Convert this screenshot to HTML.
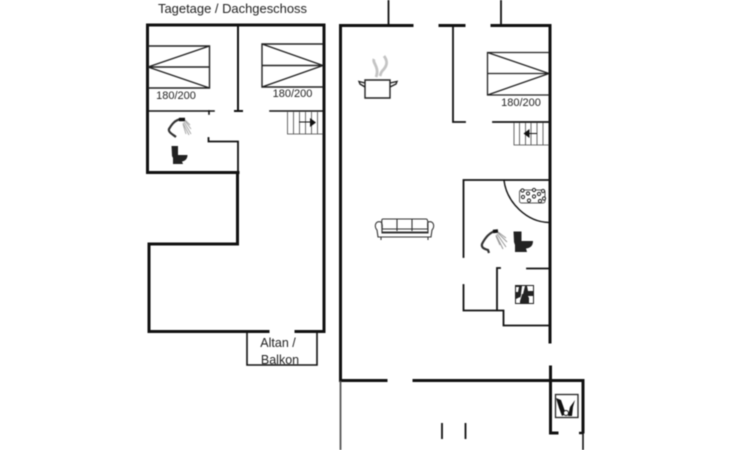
<!DOCTYPE html>
<html>
<head>
<meta charset="utf-8">
<style>
html,body{margin:0;padding:0;background:#fff;width:730px;height:450px;overflow:hidden}
svg{display:block;filter:blur(0.4px)}
text{font-family:"Liberation Sans",sans-serif;fill:#222}
</style>
</head>
<body>
<svg width="730" height="450" viewBox="0 0 730 450" xmlns="http://www.w3.org/2000/svg">
<rect width="730" height="450" fill="#fff"/>

<!-- Title -->
<text x="158" y="13" font-size="13" textLength="149" lengthAdjust="spacingAndGlyphs">Tagetage / Dachgeschoss</text>

<!-- LEFT PLAN outer walls -->
<g fill="none" stroke="#111" stroke-linecap="square">
  <path stroke-width="3" d="M238 172.5H147.5V25H324V331.5H296"/>
  <path stroke-width="3" d="M237.5 172.5V244H149V331.5H268"/>
  <!-- interior -->
  <path stroke-width="2" d="M238 25V111"/>
  <path stroke-width="2" d="M234 111H243" stroke-linecap="butt"/>
  <path stroke-width="1.6" d="M148 111H214"/>
  <path stroke-width="1.6" d="M270 111H323"/>
  <path stroke-width="1.6" d="M209 111V114"/>
  <path stroke-width="1.8" d="M208.500 138V141.500H238V172"/>
  <!-- balcony -->
  <path stroke-width="1.6" d="M247 332V365H317V332"/>
</g>

<!-- left beds -->
<g fill="none" stroke="#222" stroke-width="1.400">
  <path d="M148 46H209.500V88H148M148 67H209.500M148 67L209.500 46M148 67L209.500 88"/>
  <path d="M323 44H262V87H323M323 65.500H262M323 65.500L262 44M323 65.500L262 87"/>
</g>
<text x="176" y="99" font-size="11" text-anchor="middle">180/200</text>
<text x="292.500" y="97" font-size="11" text-anchor="middle">180/200</text>

<!-- left stairs -->
<g stroke="#444" stroke-width="0.800" fill="none">
  <path d="M287.500 112V134H323M293.500 112V134M299.500 112V134M305.500 112V134M311.500 112V134M317.500 112V134"/>
</g>
<path d="M299 122H311" stroke="#111" stroke-width="1"/>
<path d="M310 118L316 122.500L310 127Z" fill="#111"/>

<!-- left shower -->
<g fill="none">
  <path d="M181 119C175 120 172 124 169 129C168 132 172 134 176 137" stroke="#333" stroke-width="2.200"/>
  <path d="M179 119.500L185 119.500" stroke="#111" stroke-width="3.500"/>
  <path d="M185 120L190 125M185 121L191 129M184 122L191 134M183 123L189 135M183 124L186 134" stroke="#aaa" stroke-width="1"/>
</g>
<!-- left toilet -->
<path d="M171.500 146H178V155H187.500C187.500 159 185 161 182 161.500L183 164H173V158L172 156Z" fill="#222"/>

<!-- RIGHT PLAN walls -->
<g fill="none" stroke="#111" stroke-linecap="square">
  <path stroke-width="3" d="M412 25.500H340.500V380.500H386"/>
  <path stroke-width="3" d="M440 25.500H464"/>
  <path stroke-width="3" d="M492 25.500H550V342"/>
  <path stroke-width="3" d="M414 380.500H583V432"/>
  <path stroke-width="3" d="M550.500 367V433H557"/>
  <path stroke-width="2.400" d="M579 433H583" stroke-linecap="butt"/>
  <path stroke-width="1.600" d="M583 433V450" stroke-linecap="butt"/>
  <path stroke-width="1.800" d="M340.500 381V450" stroke="#555" stroke-linecap="butt"/>
  <!-- stubs -->
  <path stroke-width="1.800" d="M388.500 0V25M501 0V25" stroke-linecap="butt"/>
  <!-- inner -->
  <path stroke-width="1.800" d="M453 26V122H465"/>
  <path stroke-width="1.800" d="M493 122H549"/>
  <path stroke-width="1.800" d="M549 180H463.500V257M463.500 285V310.500H503.500V325.500H549"/>
  <path stroke-width="1.800" d="M500 268H497V310"/>
  <path stroke-width="1.800" d="M527 268.500H549"/>
  <path stroke-width="1.800" d="M442 423V439M465.500 423V439" stroke-linecap="butt"/>
</g>

<!-- right bed -->
<g fill="none" stroke="#222" stroke-width="1.300">
  <path d="M549 52.500H487.500V95H549M549 73.500H487.500M549 73.500L487.500 52.500M549 73.500L487.500 95"/>
</g>
<text x="521" y="106" font-size="11" text-anchor="middle">180/200</text>

<!-- right stairs -->
<g stroke="#444" stroke-width="0.800" fill="none">
  <path d="M514 123V145H549M519.500 123V145M525.500 123V145M531 123V145M537 123V145M543 123V145"/>
</g>
<path d="M526 133.500H537" stroke="#111" stroke-width="1"/>
<path d="M529.500 129L523.500 133.500L529.500 138Z" fill="#111"/>

<!-- pot -->
<g fill="none" stroke="#222" stroke-width="1.400">
  <path d="M365 80H390V98H365Z" fill="#fff"/>
  <path d="M365 83L359 81.500L360 84L365 87M390 83L397 81.500L396 84L390 87"/>
</g>
<g fill="none" stroke="#c4c4c4" stroke-width="2.800">
  <path d="M374 59C372 63 380 67 376 77"/>
  <path d="M384 56C387 60 388 64 384 69C381 72 381 73 380 76"/>
</g>

<!-- sofa -->
<g fill="none" stroke="#333" stroke-width="1.100">
  <path d="M383 219H426C428 219 428 221 428 233H382C382 221 381 219 383 219Z" fill="#fff"/>
  <path d="M397 219V231M412 219V231M382 229H428"/>
  <path d="M381 222C375 220 374 227 377 230L378 237H431L432 230C435 227 434 220 428 222C427 224 428 228 428 232H382C382 228 383 224 381 222Z"/>
  <path d="M381 237V240M428 237V240"/>
</g>

<!-- bath arc + jacuzzi -->
<path d="M504 180.500C507 203 527 222 549 222.500" fill="none" stroke="#111" stroke-width="1.400"/>
<rect x="519.500" y="190" width="25.500" height="13" rx="2" fill="none" stroke="#555" stroke-width="1"/>
<g fill="#fff" stroke="#222" stroke-width="1">
  <circle cx="522.500" cy="190.500" r="1.600"/><circle cx="534" cy="190" r="1.600"/>
  <circle cx="543" cy="191" r="1.600"/><circle cx="528" cy="193.500" r="1.600"/>
  <circle cx="539" cy="194" r="1.600"/><circle cx="523" cy="197" r="1.600"/>
  <circle cx="534" cy="196.500" r="1.600"/><circle cx="544" cy="198.500" r="1.600"/>
  <circle cx="529" cy="200.500" r="1.600"/><circle cx="540" cy="201" r="1.600"/>
</g>

<!-- right shower -->
<g fill="none">
  <path d="M495 231C489 233 485 238 482 244C481 248 485 249 488 250L489 253" stroke="#333" stroke-width="2.200"/>
  <path d="M493 231.500L498 231" stroke="#111" stroke-width="3.500"/>
  <path d="M498 232L506 238M498 233L507 242M497 234L506 247M496 235L503 249M496 236L500 245" stroke="#999" stroke-width="1"/>
</g>
<!-- right toilet -->
<path d="M513.500 231.500H521.500V241H533C533 246 530 248 526 248.500L527 252H515V245L514 242Z" fill="#222"/>

<!-- appliance -->
<rect x="515" y="285" width="19" height="19" fill="#222"/>
<path d="M516 287H519L518 292H516ZM522 286H525L523 294H521ZM527 286H533V291H528ZM528 296H533V303H529V298ZM516 299L520 297V303H516Z" fill="#fff"/>
<path d="M519 303L523 290" stroke="#fff" stroke-width="0.800"/>

<!-- laundry box -->
<rect x="555.500" y="394.500" width="22.500" height="23" fill="#fff" stroke="#222" stroke-width="1.300"/>
<path d="M556 398L561 400L566 414L562 416L559 408Z" fill="#111"/>
<path d="M575 400L573 407L572 416H568L570 407Z" fill="#111"/>
<circle cx="566" cy="413" r="2.500" fill="#fff" stroke="#111"/>

<!-- balcony text -->
<text x="278" y="347" font-size="12.500" text-anchor="middle">Altan /</text>
<text x="280" y="364" font-size="12.500" text-anchor="middle">Balkon</text>
</svg>
</body>
</html>
